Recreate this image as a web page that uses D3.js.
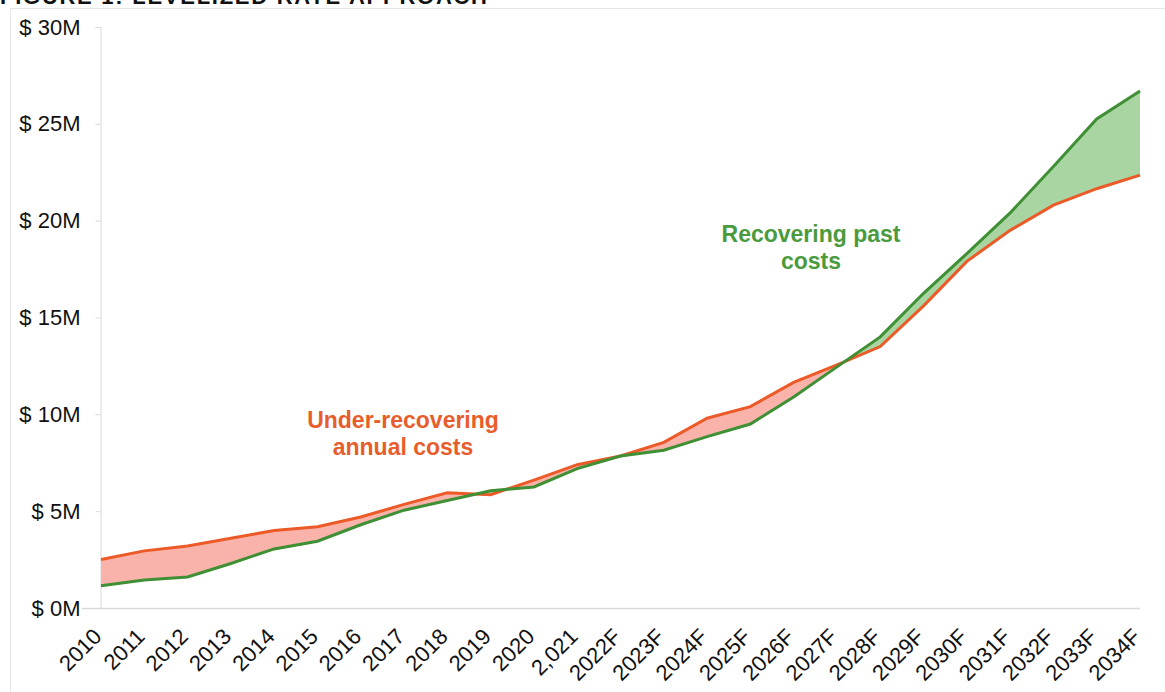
<!DOCTYPE html>
<html>
<head>
<meta charset="utf-8">
<script src="https://cdn.jsdelivr.net/npm/d3@7/dist/d3.min.js"></script>
<style>
  body { margin: 0; background: #fff; }
  svg { display: block; font-family: "Liberation Sans", Arial, sans-serif; }
</style>
</head>
<body>
<div id="chart"></div>
<script>
// categories on the x axis
var years = ["2010", "2011", "2012", "2013", "2014", "2015", "2016", "2017", "2018", "2019",
  "2020", "2,021", "2022F", "2023F", "2024F", "2025F", "2026F", "2027F", "2028F", "2029F",
  "2030F", "2031F", "2032F", "2033F", "2034F"];

// annual costs ($M)
var annualCosts = [2.5, 2.95, 3.2, 3.6, 4.0, 4.2, 4.7, 5.35, 5.95, 5.85,
  6.6, 7.4, 7.85, 8.55, 9.8, 10.4, 11.65, 12.55, 13.5, 15.6,
  17.9, 19.5, 20.8, 21.65, 22.35];

// levelized rate ($M)
var levelized = [1.15, 1.45, 1.6, 2.3, 3.05, 3.45, 4.3, 5.05, 5.55, 6.05,
  6.25, 7.2, 7.85, 8.15, 8.85, 9.5, 10.9, 12.45, 14.0, 16.25,
  18.3, 20.4, 22.8, 25.25, 26.7];

var yTicks = [0, 5, 10, 15, 20, 25, 30];

var width = 1165, height = 692;

var svg = d3.select("#chart").append("svg")
  .attr("width", width)
  .attr("height", height);

// light frame round the figure
svg.append("rect")
  .attr("x", 10.5).attr("y", 8.5)
  .attr("width", width).attr("height", height)
  .style("fill", "none")
  .style("stroke", "#e6e6e6");

// title, mostly cut off at the top (as in the source)
svg.append("text")
  .attr("x", 0).attr("y", 4)
  .attr("textLength", 487)
  .style("font-size", "22px")
  .style("font-weight", "bold")
  .style("fill", "#111")
  .text("FIGURE 1: LEVELIZED RATE APPROACH");

var x = d3.scalePoint().domain(years).range([101, 1140]);
var y = d3.scaleLinear().domain([0, 30]).range([608, 27]);

var data = years.map(function(d, i) {
  return { year: d, a: annualCosts[i], l: levelized[i] };
});

// baseline
svg.append("line")
  .attr("x1", 82).attr("x2", 1140)
  .attr("y1", y(0) + 0.5).attr("y2", y(0) + 0.5)
  .style("stroke", "#d9d9d9")
  .style("stroke-width", 1.5);

// y axis
var yAxis = svg.append("g")
  .attr("transform", "translate(100.5,0)")
  .call(d3.axisLeft(y).tickValues(yTicks).tickSize(5).tickPadding(15)
    .tickFormat(function(d) { return "$ " + d + "M"; }));

yAxis.select(".domain").style("stroke", "#d9d9d9");
yAxis.selectAll(".tick line").style("stroke", "#d9d9d9");
yAxis.selectAll(".tick text")
  .style("font-size", "22px")
  .style("fill", "#111")
  .style("font-family", "\"Liberation Sans\", Arial, sans-serif");

// clip regions for the two fills
var defs = svg.append("defs");

defs.append("clipPath").attr("id", "above-levelized")
  .append("path")
  .attr("d", d3.area()
    .x(function(d) { return x(d.year); })
    .y0(0)
    .y1(function(d) { return y(d.l); })(data));

defs.append("clipPath").attr("id", "above-annual")
  .append("path")
  .attr("d", d3.area()
    .x(function(d) { return x(d.year); })
    .y0(0)
    .y1(function(d) { return y(d.a); })(data));

var between = d3.area()
  .x(function(d) { return x(d.year); })
  .y0(function(d) { return y(d.l); })
  .y1(function(d) { return y(d.a); });

svg.append("path")
  .datum(data)
  .attr("clip-path", "url(#above-levelized)")
  .attr("d", between)
  .style("fill", "#f9b3aa");

svg.append("path")
  .datum(data)
  .attr("clip-path", "url(#above-annual)")
  .attr("d", between)
  .style("fill", "#a9d5a2");

// lines
svg.append("path")
  .datum(data)
  .attr("d", d3.line().x(function(d) { return x(d.year); }).y(function(d) { return y(d.a); }))
  .style("fill", "none")
  .style("stroke", "#ec5a28")
  .style("stroke-width", 3);

svg.append("path")
  .datum(data)
  .attr("d", d3.line().x(function(d) { return x(d.year); }).y(function(d) { return y(d.l); }))
  .style("fill", "none")
  .style("stroke", "#3f8f34")
  .style("stroke-width", 3);

// x labels, rotated
svg.append("g").selectAll("text")
  .data(years)
  .enter().append("text")
  .attr("transform", function(d) {
    return "translate(" + (x(d) - 9) + ",627) rotate(-45)";
  })
  .attr("dy", "0.7em")
  .style("text-anchor", "end")
  .style("font-size", "22px")
  .style("fill", "#111")
  .text(function(d) { return d; });

// annotations
function note(lines, cx, cy, colour) {
  svg.append("text")
    .attr("x", cx).attr("y", cy)
    .style("text-anchor", "middle")
    .style("font-size", "23px")
    .style("font-weight", "bold")
    .style("fill", colour)
    .selectAll("tspan")
    .data(lines)
    .enter().append("tspan")
    .attr("x", cx)
    .attr("dy", function(d, i) { return i ? 27 : 0; })
    .text(function(d) { return d; });
}

note(["Under-recovering", "annual costs"], 403, 428, "#e85d2c");
note(["Recovering past", "costs"], 811, 242, "#4a9a3e");
</script>
</body>
</html>
